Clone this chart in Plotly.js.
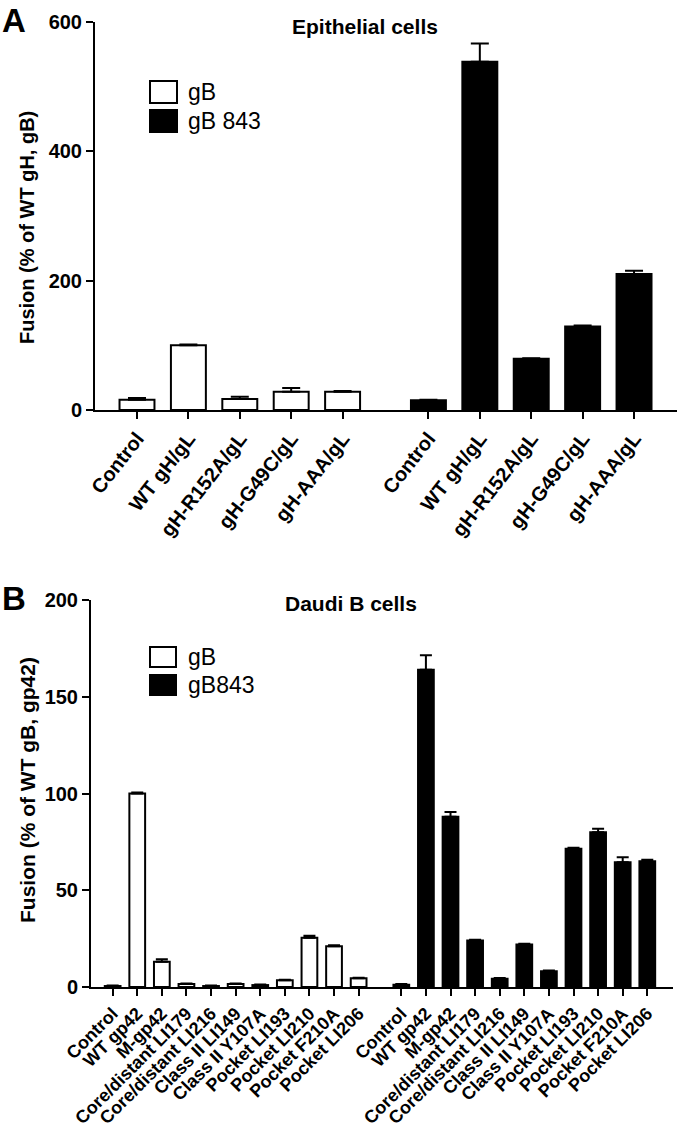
<!DOCTYPE html>
<html>
<head>
<meta charset="utf-8">
<script src="https://cdn.plot.ly/plotly-3.0.1.min.js"></script>
<style>html,body{margin:0;padding:0;background:#fff;}#chart{width:680px;height:1128px;}</style>
</head>
<body>
<div id="chart"></div>
<script>
// ---------- Data ----------
const seriesNamesA = ['gB', 'gB 843'];
const seriesNamesB = ['gB', 'gB843'];

const categoriesA = ['Control', 'WT gH/gL', 'gH-R152A/gL', 'gH-G49C/gL', 'gH-AAA/gL'];
const gB_A      = [16, 100, 17, 28, 28];
const gB_A_err  = [2.5, 1, 3.5, 6, 1.5];
const gB843_A     = [15, 538, 79, 129, 210];
const gB843_A_err = [1, 28, 1, 1.5, 5];

const categoriesB = ['Control', 'WT gp42', 'M-gp42', 'Core/distant LI179', 'Core/distant LI216',
  'Class II LI149', 'Class II Y107A', 'Pocket LI193', 'Pocket LI210', 'Pocket F210A', 'Pocket LI206'];
const gB_B      = [0.5, 100, 13, 1.5, 0.5, 1.5, 1, 3.5, 25.5, 21, 4.5];
const gB_B_err  = [0.3, 0.5, 1.3, 0.3, 0.3, 0.3, 0.3, 0.3, 1, 0.6, 0.3];
const gB843_B     = [1.2, 164, 88, 24, 4.3, 22, 8.2, 71.5, 80, 64.5, 65];
const gB843_B_err = [0.3, 7.5, 2.4, 0.4, 0.3, 0.4, 0.3, 0.5, 1.8, 2.5, 0.7];

const yTicksA = [0, 200, 400, 600];
const yTicksB = [0, 50, 100, 150, 200];

// ---------- Layout helpers ----------
const W = 680, H = 1128;
const px = x => x / W;
const py = y => 1 - y / H;
const FONT = 'Liberation Sans, Arial, Helvetica, sans-serif';
const GAP_A = 5.67, GAP_B = 11.735;

const posA1 = categoriesA.map((c, i) => i);
const posA2 = categoriesA.map((c, i) => i + GAP_A);
const posB1 = categoriesB.map((c, i) => i);
const posB2 = categoriesB.map((c, i) => i + GAP_B);

function barTrace(x, y, err, fill, xa, ya, width) {
  return {
    type: 'bar', x: x, y: y, xaxis: xa, yaxis: ya, width: width,
    marker: {color: fill, line: {color: '#000', width: 2}},
    error_y: {type: 'data', symmetric: false, array: err, arrayminus: err.map(() => 0),
      color: '#000', thickness: 2, width: xa === 'x' ? 9 : 6},
    showlegend: false, hoverinfo: 'skip'
  };
}

const traces = [
  barTrace(posA1, gB_A, gB_A_err, '#fff', 'x', 'y', 0.68),
  barTrace(posA2, gB843_A, gB843_A_err, '#000', 'x', 'y', 0.68),
  barTrace(posB1, gB_B, gB_B_err, '#fff', 'x2', 'y2', 0.64),
  barTrace(posB2, gB843_B, gB843_B_err, '#000', 'x2', 'y2', 0.64)
];

const axisCommon = {
  showline: true, linecolor: '#000', linewidth: 2, ticks: 'outside', ticklen: 7,
  tickwidth: 2, tickcolor: '#000', showgrid: false, zeroline: false, fixedrange: true
};

const layout = {
  width: W, height: H,
  margin: {l: 0, r: 0, t: 0, b: 0},
  paper_bgcolor: '#fff', plot_bgcolor: '#fff',
  bargap: 0,
  xaxis: Object.assign({}, axisCommon, {
    domain: [px(95), px(677)], anchor: 'y', range: [-0.817, 10.506],
    tickmode: 'array', tickvals: posA1.concat(posA2), ticktext: categoriesA.concat(categoriesA),
    tickangle: -52, tickfont: {family: FONT, size: 20, color: '#000', weight: 700}
  }),
  yaxis: Object.assign({}, axisCommon, {
    domain: [py(410), py(21.5)], anchor: 'x', range: [0, 600],
    tickmode: 'array', tickvals: yTicksA,
    tickfont: {family: FONT, size: 20, color: '#000', weight: 700}
  }),
  xaxis2: Object.assign({}, axisCommon, {
    domain: [px(91), px(673)], anchor: 'y2', range: [-0.88, 22.78],
    tickmode: 'array', tickvals: posB1.concat(posB2), ticktext: categoriesB.concat(categoriesB),
    tickangle: -45, tickfont: {family: FONT, size: 18, color: '#000', weight: 700}
  }),
  yaxis2: Object.assign({}, axisCommon, {
    domain: [py(987), py(600)], anchor: 'x2', range: [0, 200],
    tickmode: 'array', tickvals: yTicksB,
    tickfont: {family: FONT, size: 20, color: '#000', weight: 700}
  }),
  shapes: [
    // legend A
    {type: 'rect', xref: 'paper', yref: 'paper', x0: px(150), x1: px(177), y0: py(103), y1: py(81),
      fillcolor: '#fff', line: {color: '#000', width: 2}},
    {type: 'rect', xref: 'paper', yref: 'paper', x0: px(150), x1: px(177), y0: py(132), y1: py(110),
      fillcolor: '#000', line: {color: '#000', width: 2}},
    // legend B
    {type: 'rect', xref: 'paper', yref: 'paper', x0: px(150), x1: px(176), y0: py(667), y1: py(647),
      fillcolor: '#fff', line: {color: '#000', width: 2}},
    {type: 'rect', xref: 'paper', yref: 'paper', x0: px(150), x1: px(176), y0: py(695), y1: py(675),
      fillcolor: '#000', line: {color: '#000', width: 2}}
  ],
  annotations: [
    {text: 'A', xref: 'paper', yref: 'paper', x: px(0), y: py(0), xanchor: 'left', yanchor: 'top',
      showarrow: false, font: {family: FONT, size: 33, color: '#000', weight: 700}},
    {text: 'B', xref: 'paper', yref: 'paper', x: px(0), y: py(578), xanchor: 'left', yanchor: 'top',
      showarrow: false, font: {family: FONT, size: 33, color: '#000', weight: 700}},
    {text: 'Epithelial cells', xref: 'paper', yref: 'paper', x: px(365), y: py(26), xanchor: 'center', yanchor: 'middle',
      showarrow: false, font: {family: FONT, size: 21, color: '#000', weight: 700}},
    {text: 'Daudi B cells', xref: 'paper', yref: 'paper', x: px(351), y: py(603), xanchor: 'center', yanchor: 'middle',
      showarrow: false, font: {family: FONT, size: 21, color: '#000', weight: 700}},
    {text: 'Fusion (% of WT gH, gB)', xref: 'paper', yref: 'paper', x: px(27), y: py(228), xanchor: 'center', yanchor: 'middle',
      textangle: -90, showarrow: false, font: {family: FONT, size: 20, color: '#000', weight: 700}},
    {text: 'Fusion (% of WT gB, gp42)', xref: 'paper', yref: 'paper', x: px(27), y: py(790), xanchor: 'center', yanchor: 'middle',
      textangle: -90, showarrow: false, font: {family: FONT, size: 21, color: '#000', weight: 700}},
    {text: seriesNamesA[0], xref: 'paper', yref: 'paper', x: px(186), y: py(92), xanchor: 'left', yanchor: 'middle',
      showarrow: false, font: {family: FONT, size: 23, color: '#000'}},
    {text: seriesNamesA[1], xref: 'paper', yref: 'paper', x: px(186), y: py(121), xanchor: 'left', yanchor: 'middle',
      showarrow: false, font: {family: FONT, size: 23, color: '#000'}},
    {text: seriesNamesB[0], xref: 'paper', yref: 'paper', x: px(186), y: py(657), xanchor: 'left', yanchor: 'middle',
      showarrow: false, font: {family: FONT, size: 23, color: '#000'}},
    {text: seriesNamesB[1], xref: 'paper', yref: 'paper', x: px(186), y: py(685), xanchor: 'left', yanchor: 'middle',
      showarrow: false, font: {family: FONT, size: 23, color: '#000'}}
  ]
};

Plotly.newPlot('chart', traces, layout, {displayModeBar: false, staticPlot: true});
</script>
</body>
</html>
